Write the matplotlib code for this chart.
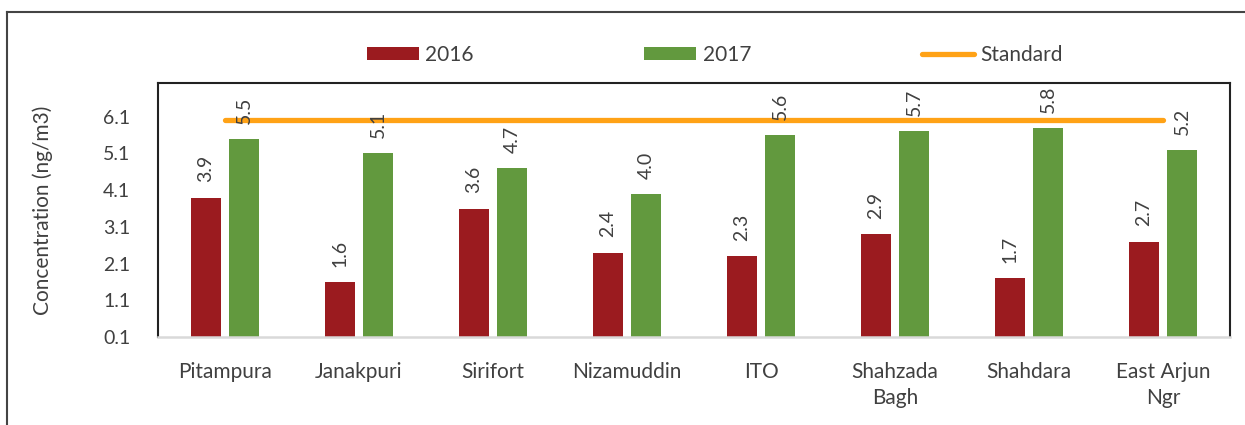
import matplotlib
matplotlib.use("Agg")
import matplotlib.pyplot as plt
from matplotlib.lines import Line2D
import numpy as np

plt.rcParams['font.family'] = ['Lato', 'DejaVu Sans']

# data
stations = ['Pitampura', 'Janakpuri', 'Sirifort', 'Nizamuddin', 'ITO',
            'Shahzada\nBagh', 'Shahdara', 'East Arjun\nNgr']
conc_2016 = [3.9, 1.6, 3.6, 2.4, 2.3, 2.9, 1.7, 2.7]
conc_2017 = [5.5, 5.1, 4.7, 4.0, 5.6, 5.7, 5.8, 5.2]
standard = [6.0] * len(stations)
yticks = [0.1, 1.1, 2.1, 3.1, 4.1, 5.1, 6.1]

red = '#9b1b1f'
green = '#62993e'
orange = '#ffa216'
txt = '#404040'

x = np.arange(len(stations))
width = 0.225
off = 0.142

fig = plt.figure(figsize=(12.45, 4.25), dpi=100)
ax = fig.add_axes([0.1269, 0.207, 0.988 - 0.1269, 0.8047 - 0.207])

b1 = ax.bar(x - off, conc_2016, width, color=red, label='2016', zorder=2)
b2 = ax.bar(x + off, conc_2017, width, color=green, label='2017', zorder=2)
ln, = ax.plot(x, standard, color=orange, lw=3.8, solid_capstyle='round', label='Standard', zorder=3)

def autolabel(rects, vals):
    for rect, v in zip(rects, vals):
        ax.annotate(f'{v:.1f}',
                    xy=(rect.get_x() + rect.get_width() / 2, v),
                    xytext=(0, 11), textcoords='offset points',
                    ha='center', va='bottom', rotation=90,
                    fontsize=14, color=txt, zorder=4)

autolabel(b1, conc_2016)
autolabel(b2, conc_2017)

ax.set_xlim(-0.5, len(stations) - 0.5)
ax.set_ylim(0.1, 7.02)
ax.set_yticks(yticks)
ax.set_yticklabels([f'{t:.1f}' for t in yticks])
ax.set_xticks(x)
ax.set_xticklabels(stations, linespacing=1.35)
ax.tick_params(axis='y', length=0, pad=20, labelsize=14, labelcolor=txt)
ax.tick_params(axis='x', length=0, pad=18, labelsize=15, labelcolor=txt)
ax.set_ylabel('Concentration (ng/m3)', fontsize=15, color=txt, labelpad=36)

for s in ['left', 'top', 'right']:
    ax.spines[s].set_color('#222222')
    ax.spines[s].set_linewidth(1.5)
ax.spines['bottom'].set_color('#d9d9d9')
ax.spines['bottom'].set_linewidth(1.8)

fig.legend(handles=[b1, b2, ln], labels=['2016', '2017', 'Standard'],
           loc='center', bbox_to_anchor=(0.574, 0.871), ncol=3, frameon=False,
           fontsize=15, handlelength=2.5, handleheight=0.62, handletextpad=0.3,
           columnspacing=8.2, labelcolor=txt)

# outer frame (only top and left edges visible)
fig.add_artist(Line2D([0.0056, 0.0056], [0, 0.972], transform=fig.transFigure,
                      color='#444444', lw=1.5))
fig.add_artist(Line2D([0.0056, 1.0], [0.972, 0.972], transform=fig.transFigure,
                      color='#444444', lw=1.5))

fig.savefig('out.png', dpi=100)
